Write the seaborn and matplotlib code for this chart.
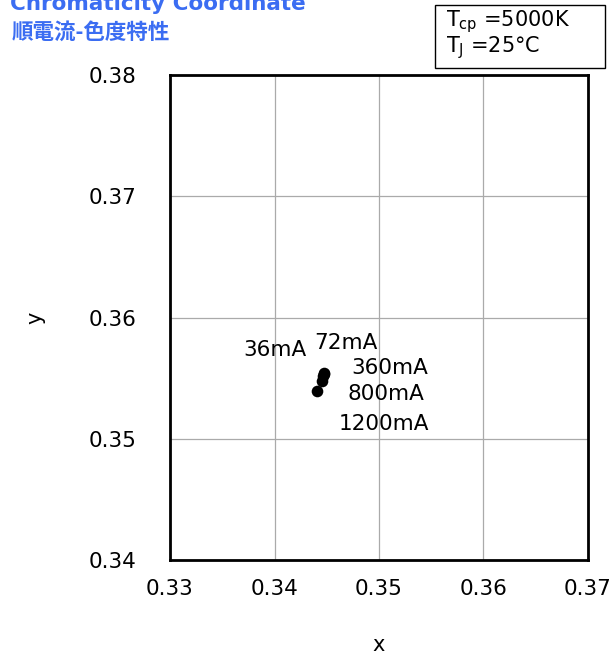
import matplotlib
matplotlib.use("Agg")
import matplotlib.pyplot as plt
from matplotlib.patches import Rectangle
import seaborn as sns
import pandas as pd

# chromaticity points per forward current
currents = ["36mA", "72mA", "360mA", "800mA", "1200mA"]
cie_x = [0.3447, 0.3447, 0.3446, 0.3445, 0.3441]
cie_y = [0.3554, 0.3553, 0.3552, 0.3548, 0.3539]

# label anchor positions (data coords)
label_x = [0.3400, 0.3468, 0.3510, 0.3507, 0.3505]
label_y = [0.3573, 0.3579, 0.3558, 0.3537, 0.3512]

x_ticks = [0.33, 0.34, 0.35, 0.36, 0.37]
y_ticks = [0.34, 0.35, 0.36, 0.37, 0.38]

df = pd.DataFrame({"current": currents, "x": cie_x, "y": cie_y})

sns.set_style("white")
plt.rcParams['font.family'] = ['DejaVu Sans', 'Noto Sans CJK JP']
plt.rcParams['text.color'] = 'black'
plt.rcParams['axes.labelcolor'] = 'black'
plt.rcParams['xtick.color'] = 'black'
plt.rcParams['ytick.color'] = 'black'

fig = plt.figure(figsize=(6.1, 6.56), dpi=100)
ax = fig.add_axes([170 / 610, 1 - 560 / 656, 418 / 610, 485 / 656])

sns.scatterplot(data=df, x="x", y="y", color="black", s=70, edgecolor="black",
                linewidth=0, ax=ax, zorder=3, legend=False)

for lab, lx, ly in zip(currents, label_x, label_y):
    ax.text(lx, ly, lab, fontsize=15.5, ha="center", va="center", color="black")

ax.set_xlim(0.33, 0.37)
ax.set_ylim(0.34, 0.38)
ax.set_xticks(x_ticks)
ax.set_yticks(y_ticks)
ax.set_xticklabels([f"{v:.2f}" for v in x_ticks], fontsize=15.5)
ax.set_yticklabels([f"{v:.2f}" for v in y_ticks], fontsize=15.5)
ax.tick_params(axis="x", pad=14, length=0)
ax.tick_params(axis="y", pad=24, length=0)
ax.grid(True, color="#aaaaaa", linewidth=0.9)
for s in ax.spines.values():
    s.set_color("black")
    s.set_linewidth(2)

ax.set_xlabel("x", fontsize=15)
ax.set_ylabel("y", fontsize=15)
ax.xaxis.set_label_coords(0.5, -(645 - 560) / 485)
ax.xaxis.label.set_va("center")
ax.yaxis.set_label_coords(-(170 - 35) / 418, 0.5)
ax.yaxis.label.set_va("center")

fig.text(10 / 610, 1 - 10 / 656, "Chromaticity Coordinate", fontsize=15.5, fontweight="bold",
         color="#3b6df2", ha="left", va="baseline")
fig.text(12 / 610, 1 - 32 / 656, "順電流-色度特性", fontsize=15.5, fontweight="bold",
         color="#3b6df2", ha="left", va="center", family=['Noto Sans CJK JP', 'DejaVu Sans'])

fig.patches.append(Rectangle((435 / 610, 1 - 68 / 656), 170 / 610, 63 / 656,
                             transform=fig.transFigure, facecolor="white",
                             edgecolor="black", linewidth=1))
fig.text(446 / 610, 1 - 22 / 656, "T$_{\\mathregular{cp}}$ =5000K", fontsize=15,
         ha="left", va="center")
fig.text(446 / 610, 1 - 48 / 656, "T$_{\\mathregular{J}}$ =25°C", fontsize=15,
         ha="left", va="center")

fig.savefig("out.png", dpi=100)
